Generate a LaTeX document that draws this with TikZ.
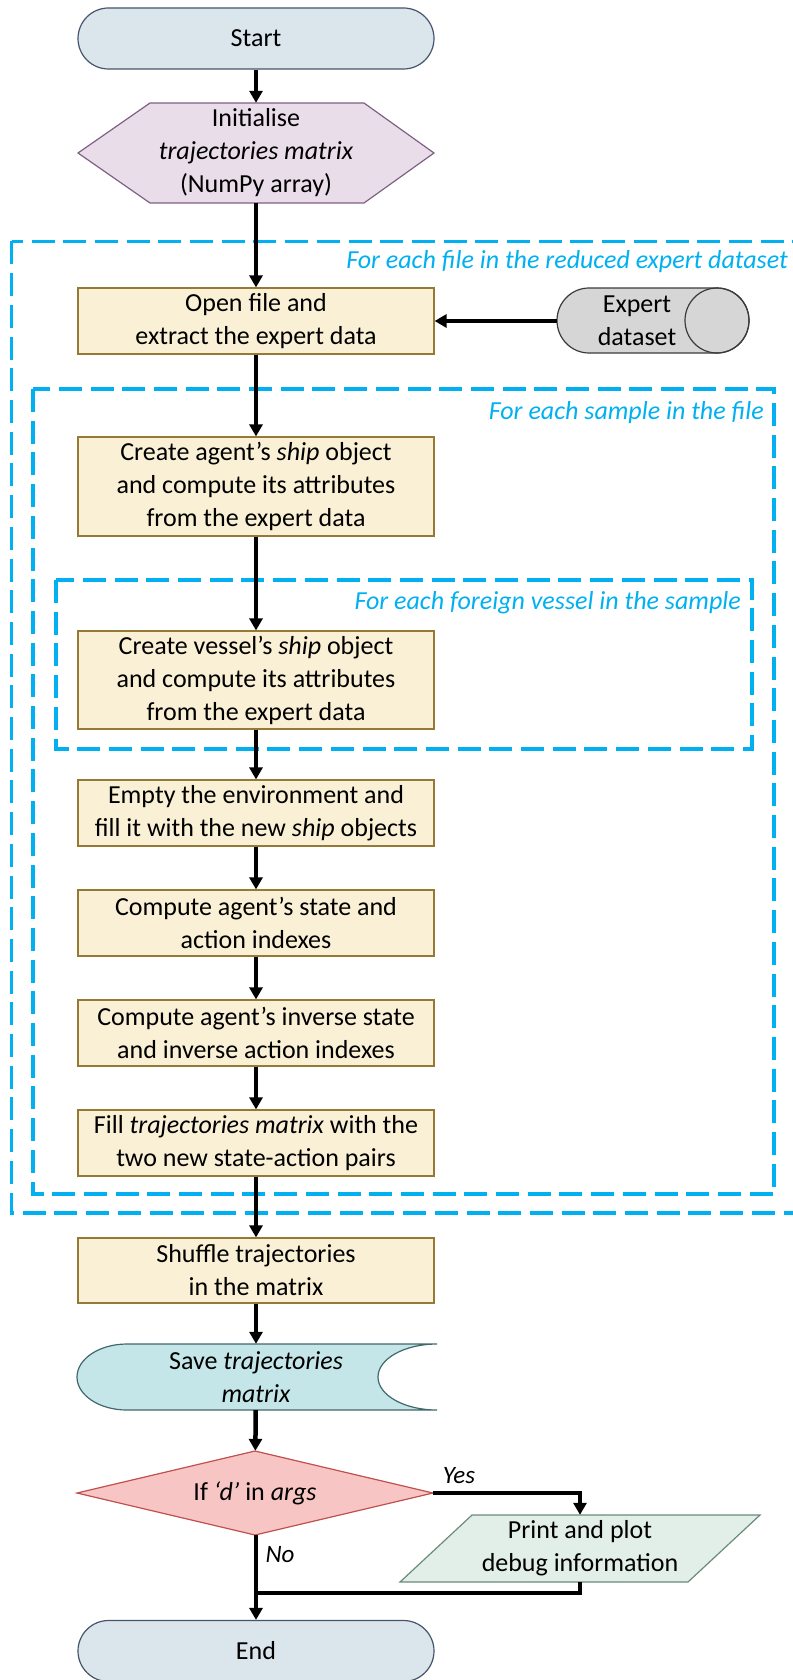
\documentclass[tikz,border=0pt]{standalone}
\usepackage{fontspec}
\setmainfont{Carlito}
\usetikzlibrary{arrows.meta}

\definecolor{termfill}{HTML}{DAE5EC}
\definecolor{termdraw}{HTML}{44546A}
\definecolor{prepfill}{HTML}{E9DDEA}
\definecolor{prepdraw}{HTML}{7F6084}
\definecolor{procfill}{HTML}{FAF0D5}
\definecolor{procdraw}{HTML}{947A35}
\definecolor{dbfill}{HTML}{D6D6D6}
\definecolor{dbdraw}{HTML}{3A3A3A}
\definecolor{savefill}{HTML}{C4E6E9}
\definecolor{savedraw}{HTML}{41686C}
\definecolor{decfill}{HTML}{F8C5C5}
\definecolor{decdraw}{HTML}{C0504D}
\definecolor{iofill}{HTML}{E2EFE9}
\definecolor{iodraw}{HTML}{6A8A7C}
\definecolor{loopblue}{HTML}{00B0F0}

\begin{document}
\begin{tikzpicture}[x=1pt,y=-1pt,
  txt/.style={font=\fontsize{26}{33}\selectfont, align=center, inner sep=0pt},
  plain/.style={txt, minimum width=356pt},
  box/.style={txt, draw=procdraw, fill=procfill, line width=1.2pt, minimum width=356pt},
  term/.style={txt, draw=termdraw, fill=termfill, line width=1.2pt, minimum width=356pt,
               minimum height=61pt, rounded corners=30.5pt},
  loopbox/.style={draw=loopblue, line width=3.3pt, dash pattern=on 23pt off 8.7pt},
  looplabel/.style={font=\fontsize{26}{33}\selectfont\itshape, text=loopblue, anchor=east, inner sep=0pt},
  branch/.style={font=\fontsize{25}{30}\selectfont\itshape, inner sep=0pt},
  flow/.style={line width=4.5pt, draw=black},
  arr/.style={flow, -{Triangle[length=12pt,width=13pt]}},
]
\useasboundingbox (0,0) rectangle (792,1680);

% nested loop frames
\draw[loopbox] (11.5,241.5) rectangle (805,1213);
\draw[loopbox] (33,389) rectangle (774,1194);
\draw[loopbox] (56,580) rectangle (752,749);
\node[looplabel] (lfile) at (788,262) {For each file in the reduced expert dataset};
\node[looplabel] (lsample) at (764,413) {For each sample in the file};
\node[looplabel] (lvessel) at (741,603) {For each foreign vessel in the sample};

% terminator
\node[term] (start) at (256,38.5) {Start};

% preparation (hexagon)
\filldraw[fill=prepfill, draw=prepdraw, line width=1.2pt]
  (78,153) -- (150,103) -- (364,103) -- (434,153) -- (364,203) -- (150,203) -- cycle;
\node[plain, minimum height=100pt] (init) at (256,153)
  {Initialise\\\textit{trajectories matrix}\\(NumPy array)};

% processes
\node[box, minimum height=66pt] (open) at (256,321) {Open file and\\extract the expert data};

% stored data (horizontal cylinder)
\filldraw[fill=dbfill, draw=dbdraw, line width=1.2pt]
  (589,288) -- (717,288) arc[start angle=270, end angle=450, x radius=32, y radius=32.5]
  -- (589,353) arc[start angle=90, end angle=270, x radius=32, y radius=32.5] -- cycle;
\draw[dbdraw, line width=1.2pt] (717,320.5) ellipse [x radius=32, y radius=32.5];
\node[txt, minimum width=160pt, minimum height=65pt] (ds) at (637,321) {Expert\\dataset};

\node[box, minimum height=99pt] (agent) at (256,486.5)
  {Create agent’s \textit{ship} object\\and compute its attributes\\from the expert data};
\node[box, minimum height=98pt] (vessel) at (256,680)
  {Create vessel’s \textit{ship} object\\and compute its attributes\\from the expert data};
\node[box, minimum height=66pt] (empty) at (256,813)
  {Empty the environment and\\fill it with the new \textit{ship} objects};
\node[box, minimum height=66pt] (state) at (256,923)
  {Compute agent’s state and\\action indexes};
\node[box, minimum height=66pt] (inverse) at (256,1033)
  {Compute agent’s inverse state\\and inverse action indexes};
\node[box, minimum height=66pt] (fill) at (256,1143)
  {Fill \textit{trajectories matrix} with the\\two new state-action pairs};
\node[box, minimum height=65pt] (shuffle) at (256,1270.5)
  {Shuffle trajectories\\in the matrix};

% stored data output
\filldraw[fill=savefill, draw=savedraw, line width=1.2pt]
  (437,1344) -- (127,1344) arc[start angle=270, end angle=90, x radius=50, y radius=33]
  -- (437,1410) arc[start angle=90, end angle=270, x radius=59, y radius=33] -- cycle;
\node[plain, minimum width=358pt, minimum height=66pt] (save) at (256,1377)
  {Save \textit{trajectories}\\\textit{matrix}};

% decision
\filldraw[fill=decfill, draw=decdraw, line width=1.2pt]
  (77,1493) -- (255,1451) -- (433,1493) -- (255,1535) -- cycle;
\node[txt, minimum width=356pt, minimum height=84pt] (dec) at (255,1493)
  {If \textit{‘d’} in \textit{args}};

% data output (parallelogram)
\filldraw[fill=iofill, draw=iodraw, line width=1.2pt]
  (472,1515) -- (760,1515) -- (688,1582) -- (400,1582) -- cycle;
\node[txt, minimum width=360pt, minimum height=67pt] (dbg) at (580,1548.5)
  {Print and plot\\debug information};

\node[term] (end) at (256,1651) {End};

% connectors
\draw[arr] (start) -- (init);
\draw[arr] (init) -- (open);
\draw[arr] (ds.west) -- (open.east);
\draw[arr] (open) -- (agent);
\draw[arr] (agent) -- (vessel);
\draw[arr] (vessel) -- (empty);
\draw[arr] (empty) -- (state);
\draw[arr] (state) -- (inverse);
\draw[arr] (inverse) -- (fill);
\draw[arr] (fill) -- (shuffle);
\draw[arr] (shuffle) -- (save);
\draw[arr] (save) -- (dec);
\draw[arr] (dec.east) -| (dbg.north);
\coordinate (join) at (256,1593);
\draw[flow] (dbg.south) |- (join);
\draw[arr] (dec.south -| end.north) -- (end.north);

\node[branch] (yes) at (459,1476) {Yes};
\node[branch] (no) at (280,1555) {No};
\end{tikzpicture}
\end{document}
